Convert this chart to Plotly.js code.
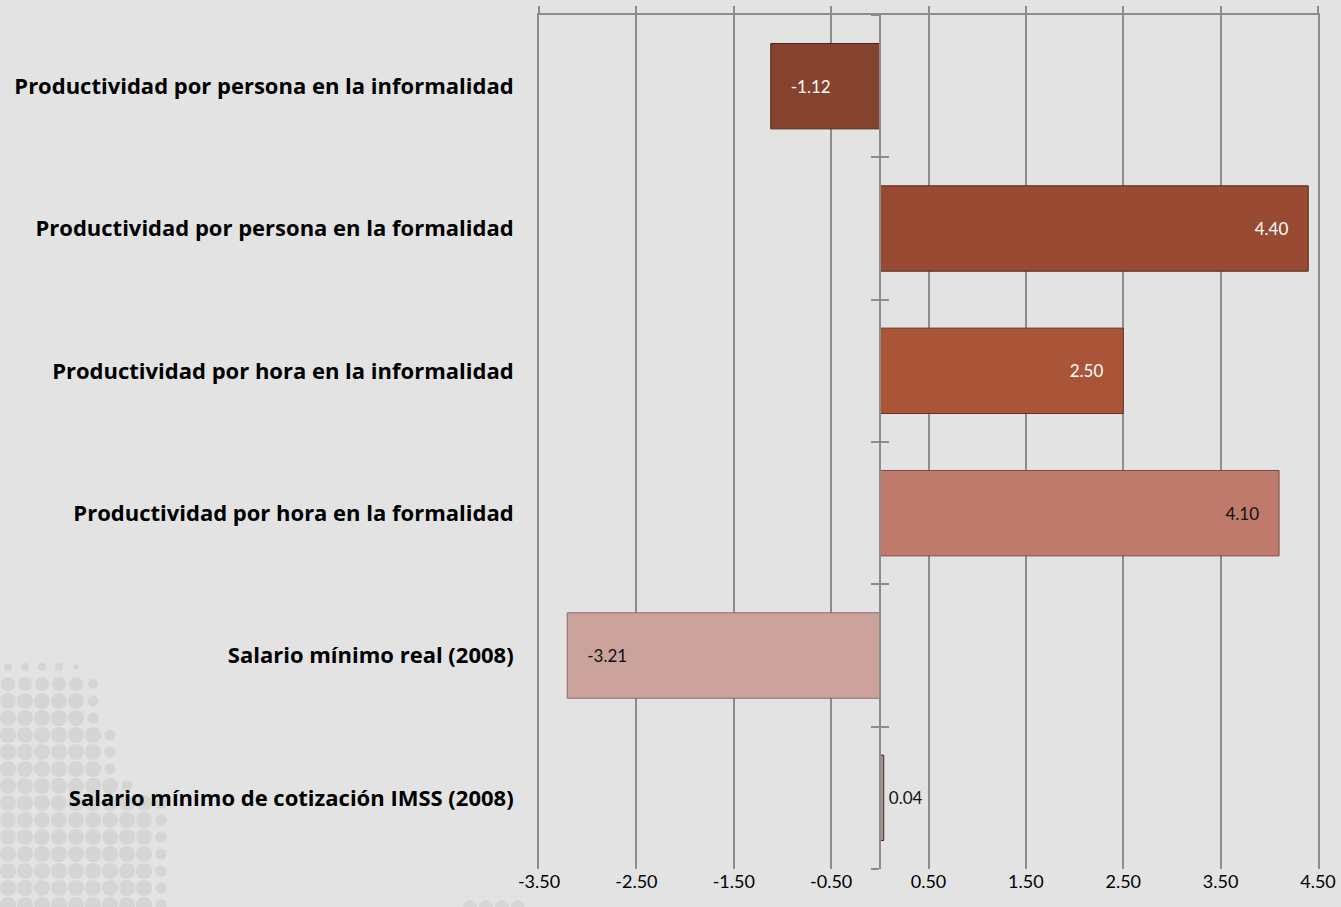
<!DOCTYPE html>
<html>
<head>
<meta charset="utf-8">
<script src="https://cdn.plot.ly/plotly-3.0.1.min.js"></script>
<style>html,body{margin:0;padding:0;background:#e3e3e3;}#chart{width:1341px;height:907px;}</style>
</head>
<body>
<div id="chart"></div>
<script>
const categories = [
  "Productividad por persona en la informalidad",
  "Productividad por persona en la formalidad",
  "Productividad por hora en la informalidad",
  "Productividad por hora en la formalidad",
  "Salario mínimo real (2008)",
  "Salario mínimo de cotización IMSS (2008)"
];
const values = [-1.12, 4.40, 2.50, 4.10, -3.21, 0.04];
const xTickVals = [-3.5, -2.5, -1.5, -0.5, 0.5, 1.5, 2.5, 3.5, 4.5];
const xTickText = ["-3.50", "-2.50", "-1.50", "-0.50", "0.50", "1.50", "2.50", "3.50", "4.50"];

const barColors = ["#85432f", "#984a32", "#ab5538", "#c07a6b", "#cba39c", "#a89592"];
const barLines = ["#4f2618", "#5a2a1b", "#6a3220", "#7a4a40", "#8a6a66", "#3a2a28"];
const textColors = ["#ffffff", "#ffffff", "#ffffff", "#111111", "#111111", "#111111"];
const textPos = ["inside", "inside", "inside", "inside", "inside", "outside"];

const idx = categories.map((c, i) => i);
const boundaries = [];
for (let i = 0; i <= categories.length; i++) boundaries.push(i - 0.5);

const pad = "\u2002\u2002";
const templates = values.map((v, i) =>
  textPos[i] === "outside" ? "\u2009%{x:.2f}" : (v < 0 ? pad + "%{x:.2f}" : "%{x:.2f}" + pad));

const grid = "#8c8c8c";
const font = "Lato, 'Open Sans', sans-serif";
const labelFont = "'Open Sans', Lato, sans-serif";

const traces = [
  {
    type: "bar", orientation: "h",
    x: values, y: idx,
    width: 0.6,
    marker: {color: barColors, line: {color: barLines, width: 1}},
    texttemplate: templates,
    textposition: textPos,
    insidetextanchor: "end",
    constraintext: "none",
    textfont: {family: font, size: 17, color: textColors},
    cliponaxis: false,
    hoverinfo: "x+y"
  },
  {type: "scatter", x: [], y: [], xaxis: "x2", yaxis: "y2", hoverinfo: "skip", showlegend: false},
  {type: "scatter", x: [], y: [], xaxis: "x", yaxis: "y3", hoverinfo: "skip", showlegend: false}
];

// decorative halftone dots in the lower-left background
const W = 1341, H = 907, ML = 539, MR = 23, MT = 15, MB = 38;
const pw = W - ML - MR, ph = H - MT - MB;
function px(x) { return (x - ML) / pw; }
function py(y) { return (H - MB - y) / ph; }
const dotShapes = [];
const rowReach = [[667, 80, 4], [684, 95, 7], [701, 105, 8], [718, 105, 8], [735, 110, 8], [752, 125, 8], [769, 125, 8], [786, 130, 8], [803, 165, 8], [820, 170, 8], [837, 165, 8], [854, 165, 8], [871, 165, 8], [888, 165, 8], [905, 175, 8]];
rowReach.forEach(([cy, reach, r]) => {
  for (let cx = 8; cx <= reach; cx += 17) {
    const rr = (reach - cx < 17) ? r * 0.7 : r;
    dotShapes.push({type: "circle", xref: "paper", yref: "paper", layer: "below",
      x0: px(cx - rr), x1: px(cx + rr), y0: py(cy + rr), y1: py(cy - rr),
      fillcolor: "#d5d5d5", line: {width: 0}});
  }
});
for (let cx = 470; cx <= 530; cx += 16) {
  dotShapes.push({type: "circle", xref: "paper", yref: "paper", layer: "below",
    x0: px(cx - 7), x1: px(cx + 7), y0: py(907 + 7), y1: py(907 - 7),
    fillcolor: "#d7d7d7", line: {width: 0}});
}

const yRange = [categories.length - 0.5, -0.5];
const xRange = [-3.5, 4.5];

const layout = {
  width: W, height: H,
  paper_bgcolor: "#e3e3e3", plot_bgcolor: "rgba(0,0,0,0)",
  margin: {l: ML, r: MR, t: MT, b: MB},
  showlegend: false,
  font: {family: font, color: "#000"},
  shapes: dotShapes,
  xaxis: {
    range: xRange, tickvals: xTickVals, ticktext: xTickText,
    showgrid: true, gridcolor: grid, gridwidth: 2,
    zeroline: false, showline: false, ticks: "",
    tickfont: {family: font, size: 18, color: "#000"},
    fixedrange: true
  },
  xaxis2: {
    overlaying: "x", side: "top", anchor: "y",
    range: xRange, tickvals: xTickVals,
    ticks: "outside", ticklen: 7, tickwidth: 2, tickcolor: grid,
    showline: true, linecolor: grid, linewidth: 2,
    showticklabels: false, showgrid: false, zeroline: false
  },
  yaxis: {
    range: yRange, tickvals: idx, ticktext: categories,
    showgrid: false, zeroline: false, showline: true, mirror: true,
    linecolor: grid, linewidth: 2, ticks: "",
    ticklabelstandoff: 19,
    tickfont: {family: labelFont, size: 22, color: "#000", weight: "bold"}
  },
  yaxis2: {
    overlaying: "y", anchor: "free", position: 0.4375, side: "left",
    range: yRange, tickvals: boundaries,
    ticks: "outside", ticklen: 8, tickwidth: 2, tickcolor: grid,
    showline: true, linecolor: grid, linewidth: 2,
    showticklabels: false, showgrid: false, zeroline: false
  },
  yaxis3: {
    overlaying: "y", anchor: "free", position: 0.4375, side: "left",
    range: yRange, tickvals: boundaries,
    ticks: "inside", ticklen: 8, tickwidth: 2, tickcolor: grid,
    showline: false,
    showticklabels: false, showgrid: false, zeroline: false
  }
};

Plotly.newPlot("chart", traces, layout, {displayModeBar: false, staticPlot: true});
</script>
</body>
</html>
